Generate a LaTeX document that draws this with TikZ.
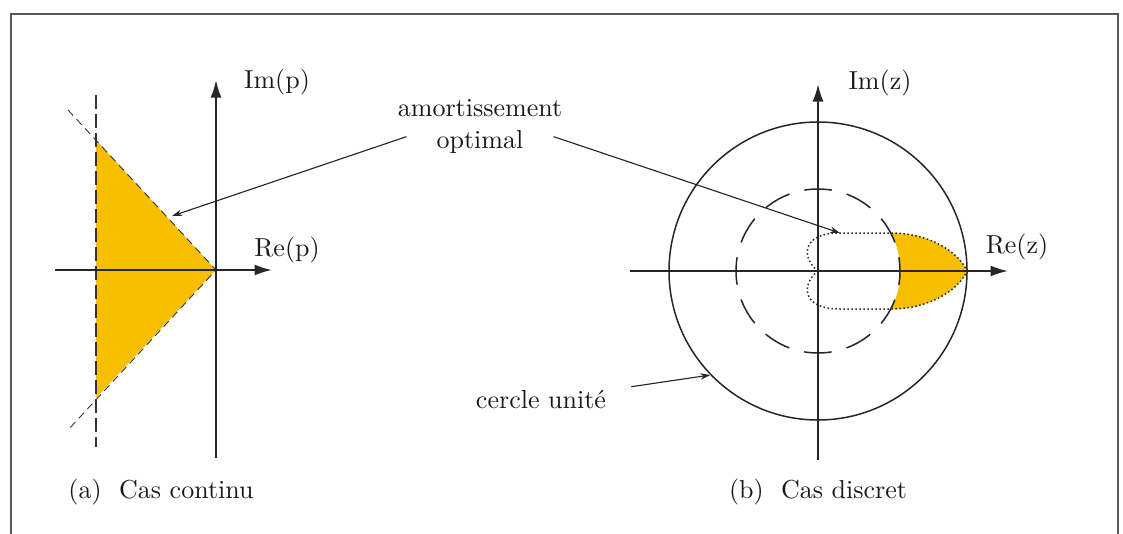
\documentclass[tikz,border=0pt]{standalone}
\usepackage{tikz}
\usetikzlibrary{arrows.meta, positioning}
\definecolor{damp}{RGB}{248,190,0}

\begin{document}
\begin{tikzpicture}[
    x=0.4pt, y=-0.4pt,
    font=\fontsize{10.4}{12.5}\selectfont,
    axis/.style={-{Latex[length=7pt, width=4.4pt]}, line width=0.8pt, black!85},
    note/.style={-{Stealth[length=4pt, width=2.6pt]}, line width=0.45pt, black!85, shorten <=11.5pt},
    lbl/.style={inner sep=1pt, text=black!90},
    edge/.style={densely dashed, line width=0.35pt, black!80},
    contour/.style={densely dotted, line width=0.6pt, black!85},
    bound/.style={dash pattern=on 5.6pt off 2pt, line width=0.7pt, black!80},
    unit/.style={circle, draw=black!85, line width=0.6pt, minimum size=119.2pt, inner sep=0pt},
    limit/.style={circle, draw=black!85, line width=0.6pt, dash pattern=on 11pt off 6.17pt, dash phase=5.5pt, minimum size=65.6pt, inner sep=0pt}
]
\useasboundingbox (0,0) rectangle (1123,533);
% Frame
\draw[black!65, line width=1pt] (11,545) -- (11,14) -- (1118,14) -- (1118,545);

% (a) continuous case
\coordinate (o1) at (216,270);
\coordinate (re1) at (272,270);
\coordinate (re1t) at (55,270);
\coordinate (im1) at (216,80);
\coordinate (im1t) at (216,458);
\coordinate (tritop) at (96,140);
\coordinate (tribot) at (96,398);
\coordinate (tri) at (172,216);
\fill[damp] (o1) -- (tritop) -- (tribot) -- cycle;
\draw[edge] (68,110) -- (o1) -- (68,430);
\draw[bound] (96,95) -- (96,447);
\draw[axis] (re1t) -- (re1);
\draw[axis] (im1t) -- (im1);
\node[lbl] (imp) at (277,82) {Im(p)};
\node[lbl] (rep) at (287,250) {Re(p)};
\node[lbl] (capa) at (161,492) {(a)~ Cas continu};

% (b) discrete case
\coordinate (o2) at (818,271);
\coordinate (re2) at (1008,271);
\coordinate (re2t) at (630,271);
\coordinate (im2) at (818,84);
\coordinate (im2t) at (818,460);
\begin{scope}[shift={(o2)}]
  \fill[damp] (73,-38) .. controls (110,-38) and (140,-20) .. (149,0)
    .. controls (140,20) and (110,38) .. (73,38)
    arc[start angle=27.6, end angle=-27.6, radius=82] -- cycle;
  \draw[contour] (0,0) .. controls (-16,-12) and (-18,-38) .. (22,-38) -- (73,-38)
    .. controls (110,-38) and (140,-20) .. (149,0)
    .. controls (140,20) and (110,38) .. (73,38) -- (22,38)
    .. controls (-18,38) and (-16,12) .. (0,0);
  \coordinate (kid) at (22,-38);
\end{scope}
\node[unit] (uc) at (o2) {};
\node[limit] (lc) at (o2) {};
\draw[axis] (re2t) -- (re2);
\draw[axis] (im2t) -- (im2);
\node[lbl] (imz) at (880,83) {Im(z)};
\node[lbl] (rez) at (1017,247) {Re(z)};
\node[lbl] (capb) at (818,492) {(b)~ Cas discret};

% Annotations
\node[lbl] (opt) at (480,142) {optimal};
\node[lbl, above=3pt of opt] (amort) {amortissement};
\node[lbl] (cu) at (541,400) {cercle unit\'e};
\draw[note] (opt.north west) -- (tri);
\draw[note] (opt.north east) -- (kid);
\draw[note, shorten <=9pt] (cu) -- (uc.224);
\end{tikzpicture}
\end{document}
